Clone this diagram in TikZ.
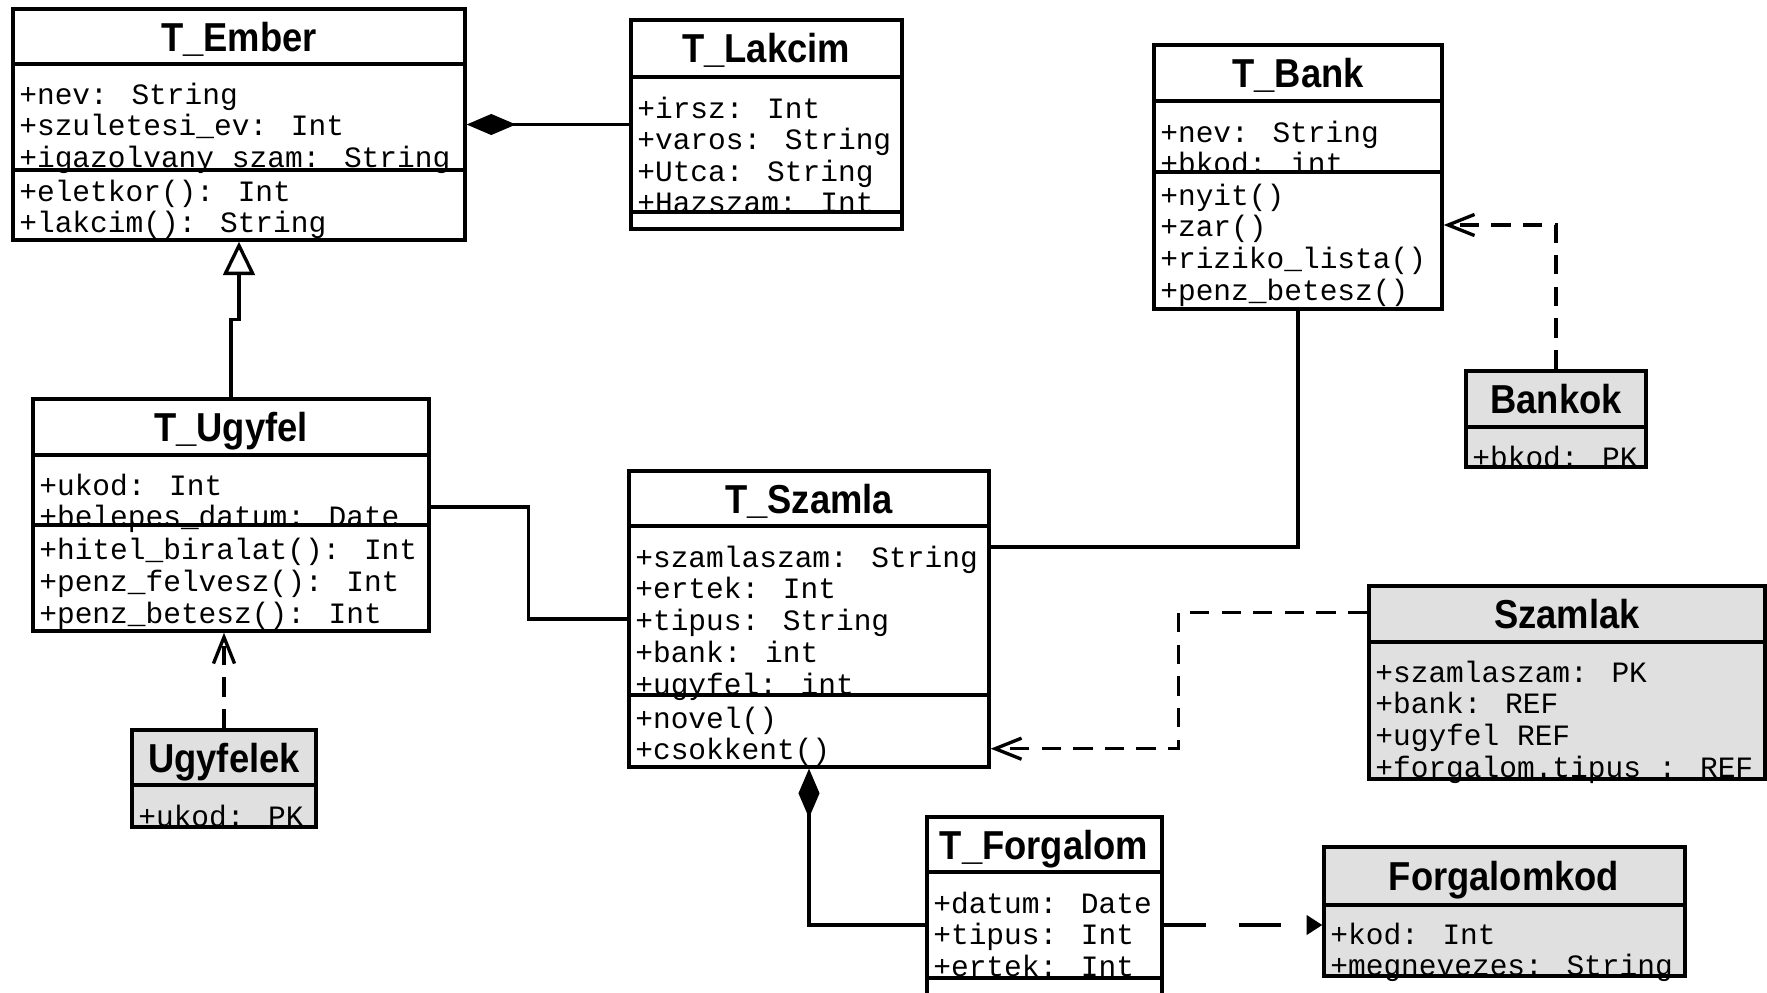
\documentclass[tikz,border=0pt]{standalone}
\usepackage{fontspec}
\newfontfamily\titlefont{Liberation Sans}[FakeStretch=0.9]
\newfontfamily\rowfont{Liberation Mono}
\usetikzlibrary{arrows.meta,fit}
\definecolor{tablegray}{RGB}{224,224,224}

\tikzset{
  classbox/.style={draw, fill=white, line width=1.9pt, inner sep=0pt},
  tablebox/.style={classbox, fill=tablegray},
  title/.style={anchor=base, inner sep=0pt, font=\titlefont\bfseries\fontsize{23}{23}\selectfont},
  row/.style={anchor=base west, inner sep=0pt, font=\rowfont\fontsize{16.8}{18}\selectfont},
  divider/.style={line width=1.9pt},
  assoc/.style={line width=1.9pt},
  compo/.style={assoc, {Diamond[length=28pt,width=12pt]}-},
  gener/.style={assoc, -{Triangle[open,length=19pt,width=18pt,fill=white]}},
  dep/.style={assoc, dash pattern=on 11pt off 7pt, -{Straight Barb[length=15pt,width=12pt]}},
  nav/.style={assoc, dash pattern=on 24pt off 19pt, -{Triangle[length=9pt,width=11pt]}}
}

\begin{document}
\begin{tikzpicture}[x=0.02cm,y=-0.02cm]
\fill[white] (0,0) rectangle (1767,992);
\clip (0,0) rectangle (1767,992);

% T_Ember
\node[classbox, fit={(13,9) (465,240)}] (ember) {};
\node[title] (ember-t) at (239,51) {T\_Ember};
\foreach \txt [count=\i from 0] in {+nev: String, +szuletesi\_ev: Int, +igazolvany\_szam: String}
  \node[row] (ember-a\i) at (19,{104+31.6*\i}) {\txt};
\foreach \txt [count=\i from 0] in {+eletkor(): Int, +lakcim(): String}
  \node[row] (ember-m\i) at (19,{201+31.6*\i}) {\txt};
\draw[divider] (ember.west |- 0,64) -- (ember.east |- 0,64);
\draw[divider] (ember.west |- 0,170) -- (ember.east |- 0,170);

% T_Lakcim
\node[classbox, fit={(631,20) (902,229)}] (lakcim) {};
\node[title] (lakcim-t) at (766,62) {T\_Lakcim};
\foreach \txt [count=\i from 0] in {+irsz: Int, +varos: String, +Utca: String, +Hazszam: Int}
  \node[row] (lakcim-a\i) at (637,{118+31.6*\i}) {\txt};
\draw[divider] (lakcim.west |- 0,77) -- (lakcim.east |- 0,77);
\draw[divider] (lakcim.west |- 0,212) -- (lakcim.east |- 0,212);

% T_Bank
\node[classbox, fit={(1154,45) (1442,309)}] (bank) {};
\node[title] (bank-t) at (1298,87) {T\_Bank};
\foreach \txt [count=\i from 0] in {+nev: String, +bkod: int}
  \node[row] (bank-a\i) at (1160,{142+31.6*\i}) {\txt};
\foreach \txt [count=\i from 0] in {+nyit(), +zar(), +riziko\_lista(), +penz\_betesz()}
  \node[row] (bank-m\i) at (1160,{205+31.8*\i}) {\txt};
\draw[divider] (bank.west |- 0,101) -- (bank.east |- 0,101);
\draw[divider] (bank.west |- 0,172) -- (bank.east |- 0,172);

% Bankok
\node[tablebox, fit={(1466,371) (1646,467)}] (bankok) {};
\node[title] (bankok-t) at (1556,413) {Bankok};
\node[row] (bankok-a0) at (1472,467) {+bkod: PK};
\draw[divider] (bankok.west |- 0,427) -- (bankok.east |- 0,427);

% T_Ugyfel
\node[classbox, fit={(33,399) (429,631)}] (ugyfel) {};
\node[title] (ugyfel-t) at (231,441) {T\_Ugyfel};
\foreach \txt [count=\i from 0] in {+ukod: Int, +belepes\_datum: Date}
  \node[row] (ugyfel-a\i) at (39,{495+31.6*\i}) {\txt};
\foreach \txt [count=\i from 0] in {+hitel\_biralat(): Int, +penz\_felvesz(): Int, +penz\_betesz(): Int}
  \node[row] (ugyfel-m\i) at (39,{559+32*\i}) {\txt};
\draw[divider] (ugyfel.west |- 0,455) -- (ugyfel.east |- 0,455);
\draw[divider] (ugyfel.west |- 0,525) -- (ugyfel.east |- 0,525);

% Ugyfelek
\node[tablebox, fit={(132,730) (316,827)}] (ugyfelek) {};
\node[title] (ugyfelek-t) at (224,772) {Ugyfelek};
\node[row] (ugyfelek-a0) at (138,826) {+ukod: PK};
\draw[divider] (ugyfelek.west |- 0,785) -- (ugyfelek.east |- 0,785);

% T_Szamla
\node[classbox, fit={(629,471) (989,767)}] (szamla) {};
\node[title] (szamla-t) at (809,513) {T\_Szamla};
\foreach \txt [count=\i from 0] in {+szamlaszam: String, +ertek: Int, +tipus: String, +bank: int, +ugyfel: int}
  \node[row] (szamla-a\i) at (635,{567+31.8*\i}) {\txt};
\foreach \txt [count=\i from 0] in {+novel(), +csokkent()}
  \node[row] (szamla-m\i) at (635,{728+31.6*\i}) {\txt};
\draw[divider] (szamla.west |- 0,526) -- (szamla.east |- 0,526);
\draw[divider] (szamla.west |- 0,695) -- (szamla.east |- 0,695);

% Szamlak
\node[tablebox, fit={(1369,586) (1765,779)}] (szamlak) {};
\node[title] (szamlak-t) at (1567,628) {Szamlak};
\foreach \txt [count=\i from 0] in {+szamlaszam: PK, +bank: REF, +ugyfel REF, +forgalom.tipus : REF}
  \node[row] (szamlak-a\i) at (1375,{682+31.8*\i}) {\txt};
\draw[divider] (szamlak.west |- 0,642) -- (szamlak.east |- 0,642);

% T_Forgalom
\node[classbox, fit={(927,817) (1162,1033)}] (forgalom) {};
\node[title] (forgalom-t) at (1044,859) {T\_Forgalom};
\foreach \txt [count=\i from 0] in {+datum: Date, +tipus: Int, +ertek: Int}
  \node[row] (forgalom-a\i) at (933,{913+31.8*\i}) {\txt};
\draw[divider] (forgalom.west |- 0,872) -- (forgalom.east |- 0,872);
\draw[divider] (forgalom.west |- 0,978) -- (forgalom.east |- 0,978);

% Forgalomkod
\node[tablebox, fit={(1324,847) (1685,976)}] (forgalomkod) {};
\node[title] (forgalomkod-t) at (1504,890) {Forgalomkod};
\foreach \txt [count=\i from 0] in {+kod: Int, +megnevezes: String}
  \node[row] (forgalomkod-a\i) at (1330,{944+31.6*\i}) {\txt};
\draw[divider] (forgalomkod.west |- 0,905) -- (forgalomkod.east |- 0,905);

% Connectors
\draw[compo] (ember.east) -- (lakcim.west);
\draw[gener] (ugyfel.north) -- ++(0,-78) -| (ember.south);
\draw[dep] (ugyfelek.north) -- (ugyfelek.north |- ugyfel.south);
\draw[assoc] ([yshift=0.16cm]ugyfel.east) -- ++(98,0) |- (szamla.west);
\draw[assoc] (bank.south) |- ([yshift=1.44cm]szamla.east);
\draw[dep] (bankok.north) |- ([yshift=-0.96cm]bank.east);
\draw[dep] ([yshift=-0.56cm]szamlak.north west) -- ++(-189,0) |- ([yshift=0.4cm]szamla.south east);
\draw[compo] (szamla.south) |- (forgalom.west);
\draw[nav] (forgalom.east) -- (forgalom.east -| forgalomkod.west);
\end{tikzpicture}
\end{document}
